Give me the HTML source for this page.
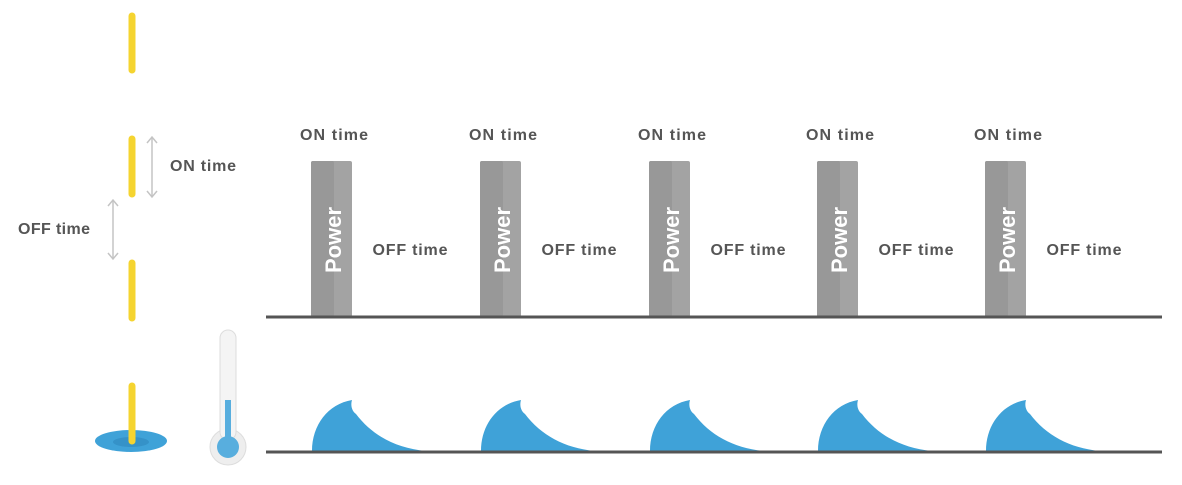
<!DOCTYPE html>
<html><head><meta charset="utf-8"><style>
html,body{margin:0;padding:0;background:#fff;}
svg text{font-family:"Liberation Sans",sans-serif;font-weight:bold;}
</style></head><body>
<svg width="1182" height="480" viewBox="0 0 1182 480" xmlns="http://www.w3.org/2000/svg">
<defs>
<g id="unit">
  <text x="334" y="140" font-size="16" fill="#555" text-anchor="middle" textLength="68">ON time</text>
  <rect x="311" y="161" width="41" height="156" rx="2" fill="#a3a3a3"/>
  <rect x="311" y="161" width="23" height="156" rx="2" fill="#989898"/>
  <text transform="translate(341,240) rotate(-90)" font-size="22" fill="#fff" text-anchor="middle">Power</text>
  <text x="410" y="255" font-size="16" fill="#555" text-anchor="middle" textLength="75">OFF time</text>
  <path d="M312,451 C312,425 328,404 352,400 C350,407 353,412 356,414 C372,435 395,448 426,451 Z" fill="#3fa2d8"/>
</g>
</defs>
<g stroke="#f5d430" stroke-width="7" stroke-linecap="round">
<line x1="132" y1="16" x2="132" y2="70"/>
<line x1="132" y1="139" x2="132" y2="194"/>
<line x1="132" y1="263" x2="132" y2="318"/>
</g>
<ellipse cx="131" cy="441" rx="36" ry="11" fill="#3fa2d8"/>
<ellipse cx="131" cy="442" rx="18" ry="5" fill="#3592c8"/>
<line x1="132" y1="386" x2="132" y2="441" stroke="#f5d430" stroke-width="7" stroke-linecap="round"/>
<g stroke="#c4c4c4" stroke-width="1.5" fill="none">
<line x1="152" y1="138" x2="152" y2="196"/><polyline points="147,143 152,137 157,143"/><polyline points="147,191 152,197 157,191"/>
<line x1="113" y1="201" x2="113" y2="258"/><polyline points="108,206 113,200 118,206"/><polyline points="108,253 113,259 118,253"/>
</g>
<text x="170" y="171" font-size="16" fill="#555" textLength="66">ON time</text>
<text x="18" y="234" font-size="16" fill="#555" textLength="72">OFF time</text>
<circle cx="228" cy="447" r="18" fill="#eee" stroke="#ddd"/>
<rect x="220" y="330" width="16" height="110" rx="8" fill="#f4f4f4" stroke="#ddd"/>
<rect x="225" y="400" width="6" height="45" fill="#58aede"/>
<circle cx="228" cy="447" r="11" fill="#58aede"/>
<use href="#unit"/>
<use href="#unit" x="169"/>
<use href="#unit" x="338"/>
<use href="#unit" x="506"/>
<use href="#unit" x="674"/>
<line x1="266" y1="317" x2="1162" y2="317" stroke="#555" stroke-width="3"/>
<line x1="266" y1="452" x2="1162" y2="452" stroke="#555" stroke-width="3"/>
</svg>
</body></html>
